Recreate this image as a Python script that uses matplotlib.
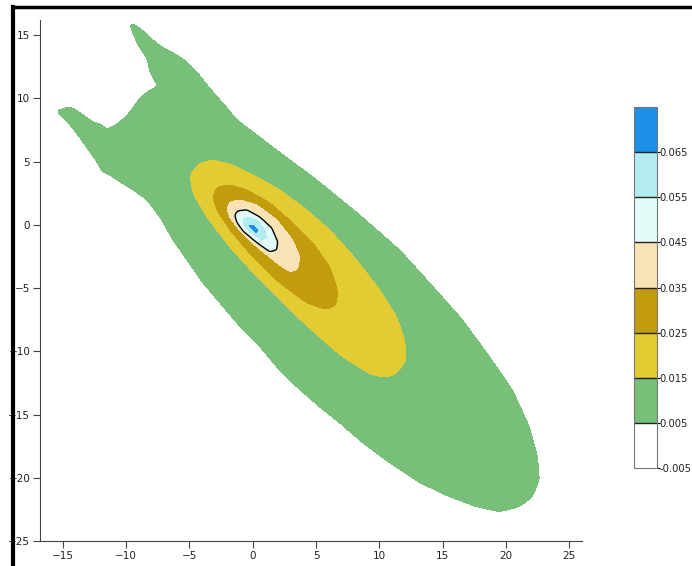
import numpy as np
import matplotlib
matplotlib.use('Agg')
import matplotlib.pyplot as plt
from matplotlib.path import Path
from matplotlib.lines import Line2D

# contour levels and band colours
levels = [-0.005, 0.005, 0.015, 0.025, 0.035, 0.045, 0.055, 0.065, 0.075]
band_colors = ['#ffffff', '#78c07a', '#e3cb34', '#c19c0c', '#f8e2b6',
               '#e2fbf9', '#b2ecf0', '#1b90e6']
tick_labels = ['-0.005', '0.005', '0.015', '0.025', '0.035', '0.045', '0.055', '0.065']

# outline of each level (x, y)
edge_005 = [(-9.86, 16.13), (-8.91, 15.57), (-8.12, 14.86), (-7.73, 14.47), (-6.78, 13.83),
            (-5.99, 13.44), (-5.20, 12.89), (-4.42, 12.09), (-3.79, 11.30), (-3.15, 10.51),
            (-2.37, 9.64), (-1.58, 8.70), (-1.03, 8.14), (1.97, 5.85), (5.05, 3.56),
            (8.44, 0.79), (11.59, -1.98), (13.96, -4.58), (16.56, -7.51), (18.69, -10.43),
            (20.50, -13.04), (21.84, -15.97), (22.48, -18.34), (22.63, -20.16), (22.08, -21.50),
            (21.06, -22.29), (19.48, -22.69), (17.66, -22.29), (15.54, -21.50), (13.17, -20.39),
            (10.80, -18.81), (8.67, -17.23), (6.86, -15.65), (5.28, -14.39), (3.47, -12.81),
            (1.89, -11.23), (0.32, -9.33), (-1.26, -7.75), (-2.60, -6.17), (-3.94, -4.58),
            (-5.20, -2.77), (-6.31, -1.19), (-7.33, 0.63), (-8.36, 1.98), (-9.46, 2.77),
            (-10.49, 3.40), (-11.28, 3.95), (-11.91, 4.19), (-12.30, 4.98), (-13.09, 6.09),
            (-13.64, 6.88), (-14.43, 7.91), (-15.22, 8.70), (-15.77, 9.33), (-15.06, 9.09),
            (-14.67, 9.33), (-14.20, 9.25), (-13.41, 8.70), (-12.62, 8.14), (-11.91, 7.91),
            (-11.51, 7.51), (-11.12, 7.75), (-10.49, 8.14), (-9.70, 8.93), (-8.91, 10.04),
            (-8.12, 10.67), (-7.33, 10.99), (-7.73, 11.30), (-8.12, 12.09), (-8.36, 13.20),
            (-9.07, 14.23)]
edge_015 = [(-4.97, 3.95), (-4.18, 4.90), (-3.15, 5.14), (-1.58, 4.74), (0.32, 3.79),
            (2.13, 2.77), (4.26, 1.19), (6.07, -0.40), (8.20, -2.77), (10.02, -5.14),
            (11.36, -7.27), (11.99, -9.09), (12.14, -10.67), (11.75, -11.23), (11.20, -11.86),
            (10.41, -12.09), (9.23, -11.78), (7.10, -10.43), (5.52, -9.09), (2.92, -6.72),
            (0.32, -4.11), (-1.81, -1.74), (-3.63, 0.63), (-4.73, 2.53)]
edge_025 = [(-3.15, 2.21), (-2.84, 3.00), (-1.81, 3.16), (-0.47, 2.77), (1.34, 1.74),
            (3.15, 0.16), (4.73, -1.42), (6.07, -3.32), (6.70, -5.14), (6.62, -6.32),
            (5.84, -6.72), (4.26, -6.17), (2.13, -4.58), (0.00, -2.53), (-1.81, -0.40),
            (-2.84, 1.19)]
edge_035 = [(-2.05, 1.34), (-1.81, 1.82), (-1.03, 1.98), (0.32, 1.58), (1.89, 0.40),
            (3.15, -1.19), (3.71, -2.53), (3.55, -3.56), (2.92, -3.72), (1.89, -3.00),
            (0.32, -1.74), (-1.03, -0.40), (-1.81, 0.55)]
edge_045 = [(-1.42, 0.79), (-1.18, 1.11), (-0.47, 1.19), (0.55, 0.63), (1.50, -0.24),
            (1.97, -1.34), (1.89, -1.98), (1.34, -2.13), (0.32, -1.42), (-0.79, -0.55),
            (-1.26, 0.16)]
edge_055 = [(-0.79, 0.40), (-0.39, 0.63), (0.32, 0.40), (0.95, -0.40), (1.10, -1.03),
            (0.71, -1.19), (-0.08, -0.63), (-0.63, -0.16)]
edge_065 = [(-0.25, 0.0), (0.0, -0.05), (0.40, -0.45), (0.32, -0.62), (0.05, -0.45),
            (-0.25, -0.15)]

xlim = (-16.8, 26.0)
ylim = (-25.0, 16.2)

gx = np.linspace(xlim[0], xlim[1], 1071)
gy = np.linspace(ylim[0], ylim[1], 1031)
X, Y = np.meshgrid(gx, gy)
pts = np.column_stack([X.ravel(), Y.ravel()])


def blur(a, sigma):
    n = int(3 * sigma) + 1
    k = np.exp(-0.5 * (np.arange(-n, n + 1) / sigma) ** 2)
    k /= k.sum()
    a = np.apply_along_axis(lambda r: np.convolve(r, k, mode='same'), 1, a)
    return np.apply_along_axis(lambda c: np.convolve(c, k, mode='same'), 0, a)


# 0.01 per nested outline, each softened a bit so the edges come out round
Z = np.zeros(X.shape)
edges = [edge_005, edge_015, edge_025, edge_035, edge_045, edge_055, edge_065]
soft = [5, 7, 6, 4, 2.5, 1.5, 0.8]
for edge, s in zip(edges, soft):
    inside = Path(edge).contains_points(pts).reshape(X.shape).astype(float)
    Z += 0.01 * blur(inside, s)

fig = plt.figure(figsize=(6.92, 5.66), dpi=100)
ax = fig.add_axes([40 / 692, 1 - 541 / 566, 542 / 692, 521 / 566])

cs = ax.contourf(X, Y, Z, levels=levels, colors=band_colors)
ax.contour(X, Y, Z, levels=[0.045], colors='black', linewidths=1.0)

ax.set_xlim(*xlim)
ax.set_ylim(*ylim)
ax.set_xticks(np.arange(-15, 26, 5))
ax.set_yticks(np.arange(-25, 16, 5))
for s in ['top', 'right']:
    ax.spines[s].set_visible(False)
for s in ['left', 'bottom']:
    ax.spines[s].set_color('#444444')
    ax.spines[s].set_linewidth(0.8)
ax.tick_params(direction='out', length=5, width=0.8, color='#444444',
               labelsize=7.5, labelcolor='#222222', pad=2)

cax = fig.add_axes([634 / 692, 1 - 468 / 566, 23 / 692, 361 / 566])
cb = fig.colorbar(cs, cax=cax, ticks=levels[:-1], drawedges=True)
cb.ax.set_yticklabels(tick_labels, va='center_baseline')
cb.dividers.set_color('#222222')
cb.dividers.set_linewidth(1.0)
cb.outline.set_edgecolor('#777777')
cb.outline.set_linewidth(0.8)
cb.ax.tick_params(length=2, width=0.8, labelsize=7.2, labelcolor='#222222', pad=0)

# screenshot frame on top and left
top = 1 - 6.5 / 566
fig.add_artist(Line2D([13 / 692, 13 / 692], [0, top], color='black', lw=3, transform=fig.transFigure))
fig.add_artist(Line2D([13 / 692, 1], [top, top], color='black', lw=2.5, transform=fig.transFigure))

fig.savefig('out.png', dpi=100)
